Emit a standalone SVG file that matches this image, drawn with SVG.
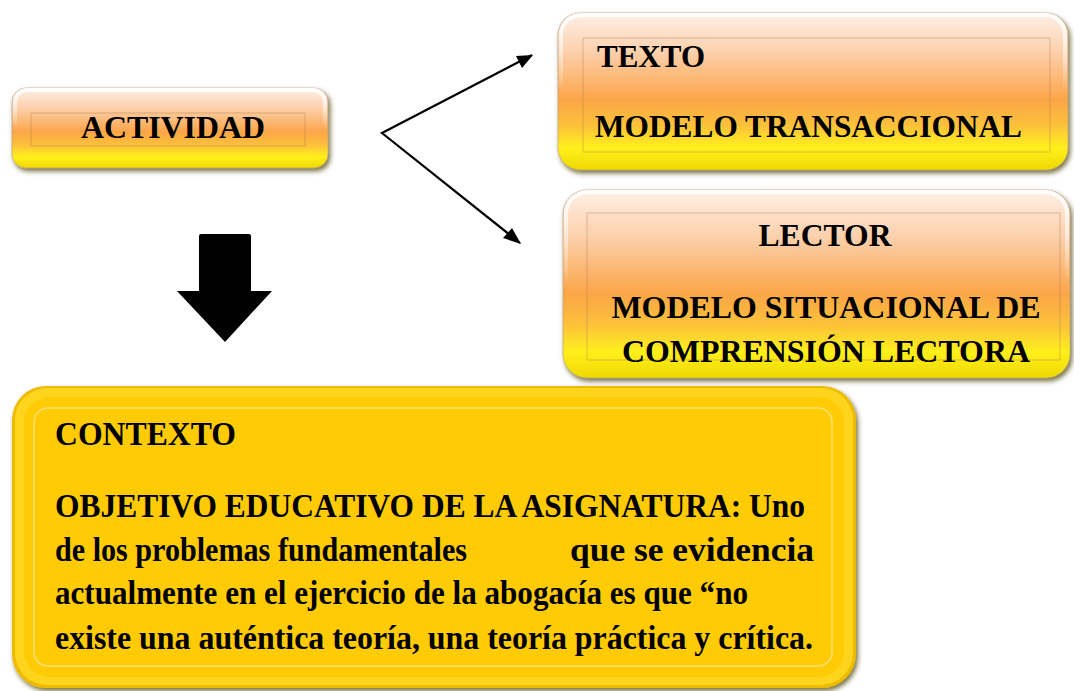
<svg xmlns="http://www.w3.org/2000/svg" width="1074" height="691" viewBox="0 0 1074 691">
<defs>
<linearGradient id="og" x1="0" y1="0" x2="0" y2="1">
<stop offset="0" stop-color="#fef0e6"/>
<stop offset="0.25" stop-color="#fcd0ac"/>
<stop offset="0.55" stop-color="#fba548"/>
<stop offset="0.72" stop-color="#fcc23a"/>
<stop offset="0.86" stop-color="#fff01c"/>
<stop offset="1" stop-color="#efd800"/>
</linearGradient>
<linearGradient id="rim" x1="0" y1="0" x2="0" y2="1">
<stop offset="0" stop-color="#ffffff" stop-opacity="0.95"/>
<stop offset="0.5" stop-color="#ffffff" stop-opacity="0"/>
<stop offset="1" stop-color="#fff" stop-opacity="0"/>
</linearGradient>
<filter id="sh" x="-10%" y="-10%" width="120%" height="130%">
<feDropShadow dx="2" dy="3" stdDeviation="2.5" flood-color="#4a4200" flood-opacity="0.75"/>
</filter>
</defs>
<style>
text{font-family:'Liberation Serif','Times New Roman',serif;font-weight:700;fill:#000}
.box{fill:url(#og);filter:url(#sh);stroke:#b89a78;stroke-opacity:0.6;stroke-width:1}
.hl{fill:none;stroke:url(#rim);stroke-width:4}
.fr{fill:none;stroke:#b07a50;stroke-opacity:0.35;stroke-width:1.2}
.conn{fill:none;stroke:#000;stroke-width:2.2}
.c{font-size:34px}
</style>
<rect width="1074" height="691" fill="#fff"/>

<g id="actividad">
<rect class="box" x="12" y="88" width="316" height="80" rx="14"/>
<rect class="hl" x="15" y="90" width="310" height="76" rx="12"/>
<rect class="fr" x="31" y="113" width="274" height="33"/>
<text x="173" y="138" style="font-size:32px" text-anchor="middle" textLength="184" lengthAdjust="spacingAndGlyphs">ACTIVIDAD</text>
</g>

<g id="texto">
<rect class="box" x="558" y="13" width="510" height="157" rx="22"/>
<rect class="hl" x="561" y="15" width="504" height="152" rx="20"/>
<rect class="fr" x="583" y="38" width="467" height="114"/>
<text x="597" y="67" style="font-size:32px" textLength="108" lengthAdjust="spacingAndGlyphs">TEXTO</text>
<text x="595" y="137" style="font-size:32px" textLength="427" lengthAdjust="spacingAndGlyphs">MODELO TRANSACCIONAL</text>
</g>

<g id="lector">
<rect class="box" x="563" y="190" width="507" height="188" rx="24"/>
<rect class="hl" x="566" y="192" width="501" height="183" rx="22"/>
<rect class="fr" x="587" y="213" width="473" height="147"/>
<text x="825" y="246" style="font-size:32px" text-anchor="middle" textLength="133" lengthAdjust="spacingAndGlyphs">LECTOR</text>
<text x="826" y="318" style="font-size:32px" text-anchor="middle" textLength="429" lengthAdjust="spacingAndGlyphs">MODELO SITUACIONAL DE</text>
<text x="826" y="362" style="font-size:32px" text-anchor="middle" textLength="408" lengthAdjust="spacingAndGlyphs">COMPRENSIÓN LECTORA</text>
</g>

<g id="contexto">
<rect x="12" y="386" width="844" height="302" rx="34" fill="#eebb00" filter="url(#sh)"/>
<rect x="15" y="388" width="838" height="297" rx="32" fill="#ffd41c"/>
<rect x="24" y="397" width="820" height="280" rx="26" fill="#fecb05"/>
<rect x="34" y="408" width="798" height="258" rx="14" fill="none" stroke="#ffe070" stroke-width="1.5"/>
<text class="c" x="55" y="445" textLength="181" lengthAdjust="spacingAndGlyphs">CONTEXTO</text>
<text class="c" x="55" y="517" textLength="750" lengthAdjust="spacingAndGlyphs">OBJETIVO EDUCATIVO DE LA ASIGNATURA: Uno</text>
<text class="c" x="55" y="561" textLength="412" lengthAdjust="spacingAndGlyphs">de los problemas fundamentales</text>
<text class="c" x="570" y="561" textLength="244" lengthAdjust="spacingAndGlyphs">que se evidencia</text>
<text class="c" x="55" y="604" textLength="693" lengthAdjust="spacingAndGlyphs">actualmente en el ejercicio de la abogacía es que “no</text>
<text class="c" x="55" y="649" textLength="758" lengthAdjust="spacingAndGlyphs">existe una auténtica teoría, una teoría práctica y crítica.</text>
</g>

<g id="connectors">
<path class="conn" d="M532,55 L382,133 L520,243"/>
<path d="M533,55 L516,56 L522,68 z" fill="#000"/>
<path d="M521,244 L512,228 L503,238 z" fill="#000"/>
<path d="M201,234 L249,234 Q251,234 251,236 L251,291 L272,291 L225,342 L177,291 L199,291 L199,236 Q199,234 201,234 z" fill="#000"/>
</g>
</svg>
